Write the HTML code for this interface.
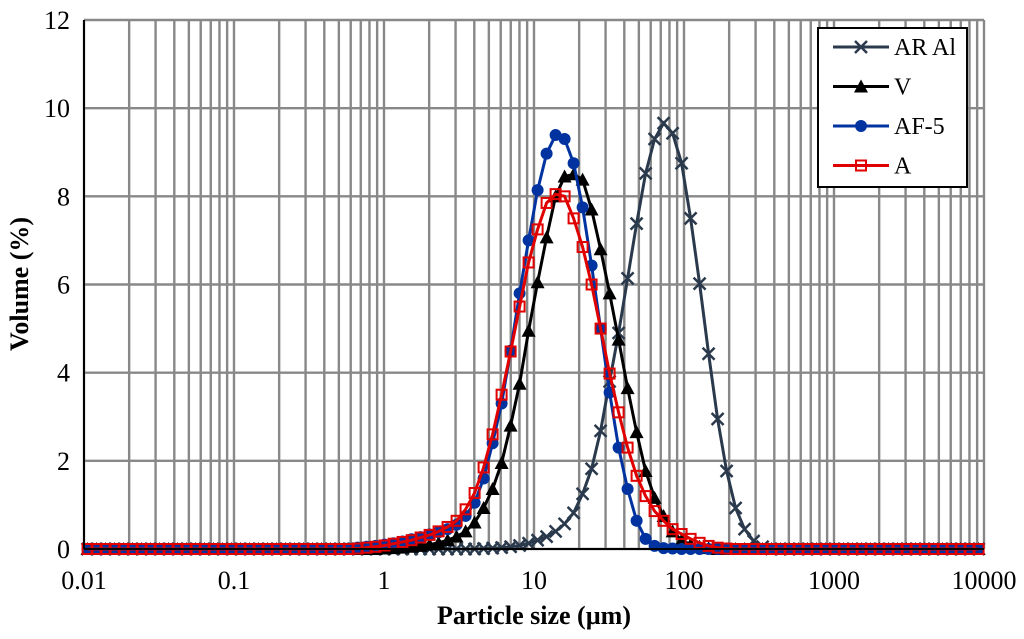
<!DOCTYPE html>
<html><head><meta charset="utf-8"><style>
body{margin:0;background:#fff}
svg{display:block;font-family:"Liberation Serif",serif}
</style></head><body>
<svg id="chart" width="1024" height="639" xmlns="http://www.w3.org/2000/svg">
<rect width="1024" height="639" fill="#fff"/>
<g id="grid"></g>
<g id="series"></g>
<g id="axes"></g>
<g id="legend"></g>
</svg>
<script>
const binCount = 101;
const xTicks = [0.01, 0.1, 1, 10, 100, 1000, 10000];
const xTickLabels = ["0.01","0.1","1","10","100","1000","10000"];
const yTicks = [0,2,4,6,8,10,12];
// values by bin index
const arAl = [0,0,0,0,0,0,0,0,0,0, 0,0,0,0,0,0,0,0,0,0, 0,0,0,0,0,0,0,0,0,0, 0,0,0,0,0,0,0,0,0,0, 0,0,0,0,0.01,0.02,0.03,0.05,0.08,0.13, 0.2,0.28,0.4,0.57,0.82,1.25,1.82,2.68,3.8,4.9, 6.14,7.38,8.52,9.3,9.66,9.43,8.75,7.5,6.02,4.43, 2.95,1.77,0.93,0.45,0.18,0.05,0,0,0,0, 0,0,0,0,0,0,0,0,0,0, 0,0,0,0,0,0,0,0,0,0, 0];
const vSeries = [0,0,0,0,0,0,0,0,0,0, 0,0,0,0,0,0,0,0,0,0, 0,0,0,0,0,0,0,0,0,0, 0,0,0,0.01,0.02,0.03,0.05,0.07,0.1,0.14, 0.2,0.28,0.4,0.6,0.93,1.36,1.95,2.8,3.75,4.95, 6.05,7.07,8.0,8.45,8.5,8.38,7.7,6.8,5.8,4.75, 3.65,2.65,1.77,1.16,0.75,0.4,0.2,0.1,0.05,0.02, 0,0,0,0,0,0,0,0,0,0, 0,0,0,0,0,0,0,0,0,0, 0,0,0,0,0,0,0,0,0,0, 0];
const af5 = [0,0,0,0,0,0,0,0,0,0, 0,0,0,0,0,0,0,0,0,0, 0,0,0,0,0,0,0,0,0,0.01, 0.03,0.05,0.07,0.1,0.13,0.17,0.22,0.27,0.33,0.38, 0.45,0.55,0.75,1.05,1.6,2.4,3.3,4.5,5.8,7.0, 8.14,8.97,9.39,9.3,8.75,7.75,6.43,5.0,3.55,2.3, 1.36,0.64,0.23,0.07,0.02,0.01,0,0,0,0, 0,0,0,0,0,0,0,0,0,0, 0,0,0,0,0,0,0,0,0,0, 0,0,0,0,0,0,0,0,0,0, 0];
const aSeries = [0,0,0,0,0,0,0,0,0,0, 0,0,0,0,0,0,0,0,0,0, 0,0,0,0,0,0,0,0,0,0, 0.01,0.03,0.05,0.08,0.12,0.16,0.2,0.26,0.32,0.4, 0.5,0.64,0.9,1.27,1.85,2.6,3.5,4.48,5.5,6.5, 7.25,7.85,8.05,8.0,7.5,6.85,6.0,5.0,3.98,3.1, 2.3,1.66,1.2,0.86,0.64,0.45,0.34,0.23,0.14,0.07, 0.03,0.01,0,0,0,0,0,0,0,0, 0,0,0,0,0,0,0,0,0,0, 0,0,0,0,0,0,0,0,0,0, 0];

const L=84,R=984,T=20,B=549;
const NS="http://www.w3.org/2000/svg";
const xs=d=>L+(Math.log10(d)+2)/6*(R-L);
const ys=v=>B-v/12*(B-T);
const binSize=i=>Math.pow(10,-2+0.06*(i+0.4));
function mk(tag,attrs,parent){const e=document.createElementNS(NS,tag);for(const k in attrs)e.setAttribute(k,attrs[k]);parent.appendChild(e);return e;}
const grid=document.getElementById('grid'),axes=document.getElementById('axes'),ser=document.getElementById('series'),leg=document.getElementById('legend');
for(let dec=-2;dec<4;dec++){for(let m=1;m<10;m++){const x=xs(m*Math.pow(10,dec));
 const g=mk('line',{x1:x,x2:x,y1:T,y2:B,stroke:'#888','stroke-width':2.4},grid);
 
 }}
yTicks.forEach(v=>{const g=mk('line',{x1:L,x2:R,y1:ys(v),y2:ys(v),stroke:'#888','stroke-width':2.4},grid);
 
 });
const rg=mk('line',{x1:R,x2:R,y1:T,y2:B,stroke:'#888','stroke-width':2.4},grid);


const ax1=mk('line',{x1:L,x2:L,y1:T,y2:B,stroke:'#000','stroke-width':2},axes);


const ax2=mk('line',{x1:L,x2:R,y1:B,y2:B,stroke:'#000','stroke-width':2},axes);


yTicks.forEach(v=>{const t=mk('text',{x:L-14,y:ys(v)+9,'text-anchor':'end','font-size':26},axes);t.textContent=v;
 
 });
xTicks.forEach((d,i)=>{const t=mk('text',{x:xs(d),y:589,'text-anchor':'middle','font-size':26},axes);t.textContent=xTickLabels[i];
 
 });
const xt=mk('text',{x:534,y:624,'text-anchor':'middle','font-size':26,'font-weight':'bold'},axes);xt.textContent='Particle size (µm)';


const yt=mk('text',{x:0,y:0,'text-anchor':'middle','font-size':26,'font-weight':'bold',transform:'translate(28,284) rotate(-90)'},axes);yt.textContent='Volume (%)';


function marker(type,x,y,parent,color){
 let e;
 if(type==='x'){e=mk('path',{d:`M${x-6},${y-6}L${x+6},${y+6}M${x-6},${y+6}L${x+6},${y-6}`,stroke:color,'stroke-width':2.5,fill:'none'},parent);}
 else if(type==='tri'){e=mk('path',{d:`M${x},${y-7}L${x+7},${y+6}L${x-7},${y+6}Z`,fill:color},parent);}
 else if(type==='dot'){e=mk('circle',{cx:x,cy:y,r:6,fill:color},parent);}
 else {e=mk('rect',{x:x-5,y:y-5,width:10,height:10,fill:'none',stroke:color,'stroke-width':2},parent);}
 return e;}
const defs=[
 {name:'ar-al',data:arAl,color:'#2a3a4c',m:'x',label:'AR Al'},
 {name:'v',data:vSeries,color:'#000',m:'tri',label:'V'},
 {name:'af-5',data:af5,color:'#0033a0',m:'dot',label:'AF-5'},
 {name:'a',data:aSeries,color:'#e00000',m:'sq',label:'A'}];
defs.forEach(s=>{
 const g=mk('g',{},ser);
 
 
 const pts=[];
 for(let i=0;i<binCount;i++){const d=binSize(i);if(d>10000.01)break;pts.push([xs(d),ys(s.data[i])]);}
 const p=mk('polyline',{points:pts.map(p=>p.join(',')).join(' '),fill:'none',stroke:s.color,'stroke-width':3},g);
 
 
 pts.forEach(pt=>{const e=marker(s.m,pt[0],pt[1],g,s.color);
  
  });
});
const lb=mk('rect',{x:818,y:28,width:149,height:159,fill:'#fff',stroke:'#000','stroke-width':2},leg);


defs.forEach((s,k)=>{const y=47+k*39.5;
 const g=mk('g',{},leg);
 
 
 mk('line',{x1:833,x2:889,y1:y,y2:y,stroke:s.color,'stroke-width':3},g);
 marker(s.m,861,y,g,s.color);
 const t=mk('text',{x:894,y:y+8,'font-size':24},g);t.textContent=s.label;});
</script>
</body></html>
